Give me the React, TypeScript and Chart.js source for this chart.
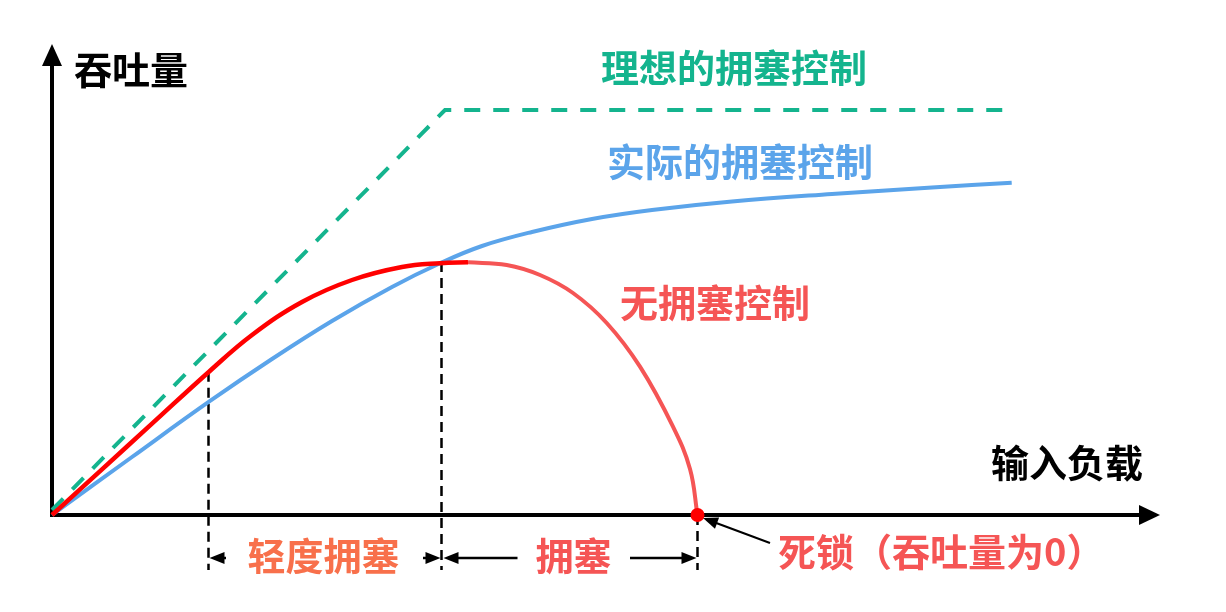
import React, { useEffect, useRef } from "react";
import { Chart, registerables } from "chart.js";

Chart.register(...registerables);

// ---- data (x: 输入负载, y: 吞吐量, arbitrary units) ----
const idealX = [0, 39.3, 96.3];
const idealY = [0.5, 40.5, 40.5];

const actualX = [0, 8, 15.7, 22, 28, 34, 38.8, 43, 48, 54, 60, 68, 78, 88, 95.97];
const actualY = [0, 5.8, 11.33, 15.6, 19.4, 22.8, 25.17, 26.9, 28.3, 29.6, 30.5, 31.35, 32.1, 32.75, 33.23];

const noCtrlRiseX = [0, 5, 10, 15.7, 20, 25, 30, 35, 38.8, 41.6];
const noCtrlRiseY = [0, 4.57, 9.13, 14.33, 18.0, 21.3, 23.5, 24.8, 25.18, 25.27];

const noCtrlFallX = [41.6, 45.47, 48.8, 52.1, 55.47, 58.8, 62.1, 63.8, 64.55];
const noCtrlFallY = [25.27, 25.0, 24.0, 22.2, 19.2, 14.83, 8.83, 4.6, 0];

const deadlockX = [64.55];
const deadlockY = [0];

// vertical markers: x positions and the throughput where they start
const markerX = [15.65, 38.95, 64.55];
const markerTopY = [14.33, 25.3, 0];
const markerBottomY = -5.5;

// ---- text ----
const yAxisTitle = "吞吐量";
const xAxisTitle = "输入负载";
const seriesLabels = ["理想的拥塞控制", "实际的拥塞控制", "无拥塞控制"];
const zoneLabels = ["轻度拥塞", "拥塞"];
const deadlockLabel = "死锁（吞吐量为0）";

const X_MIN = 0, X_MAX = 110, Y_MIN = 0, Y_MAX = 47;

const GREEN = "#14B48E";
const BLUE = "#5BA4EA";
const RED = "#FF0000";
const LIGHT_RED = "#F55555";
const ORANGE = "#F8704B";
const FONT = '"Noto Sans CJK SC", "Noto Sans", sans-serif';

function zip(xs: number[], ys: number[]) {
  return xs.map((x, i) => ({ x, y: ys[i] }));
}

function arrowHead(ctx: CanvasRenderingContext2D, x1: number, y1: number, x2: number, y2: number, len: number, half: number, color: string) {
  const a = Math.atan2(y2 - y1, x2 - x1);
  const bx = x2 - len * Math.cos(a), by = y2 - len * Math.sin(a);
  ctx.save();
  ctx.fillStyle = color;
  ctx.beginPath();
  ctx.moveTo(x2, y2);
  ctx.lineTo(bx + half * Math.sin(a), by - half * Math.cos(a));
  ctx.lineTo(bx - half * Math.sin(a), by + half * Math.cos(a));
  ctx.closePath();
  ctx.fill();
  ctx.restore();
}

function arrow(ctx: CanvasRenderingContext2D, x1: number, y1: number, x2: number, y2: number, lw: number, len: number, half: number, color: string) {
  const a = Math.atan2(y2 - y1, x2 - x1);
  ctx.save();
  ctx.strokeStyle = color;
  ctx.lineWidth = lw;
  ctx.beginPath();
  ctx.moveTo(x1, y1);
  ctx.lineTo(x2 - (len * 0.8) * Math.cos(a), y2 - (len * 0.8) * Math.sin(a));
  ctx.stroke();
  ctx.restore();
  arrowHead(ctx, x1, y1, x2, y2, len, half, color);
}

const axesPlugin = {
  id: "axesPlugin",
  beforeDatasetsDraw(chart: any) {
    const { ctx, scales } = chart;
    const xs = scales.x, ys = scales.y;
    const ox = xs.getPixelForValue(0), oy = ys.getPixelForValue(0);
    ctx.save();
    ctx.strokeStyle = "#000";
    ctx.lineWidth = 4;
    ctx.beginPath();
    ctx.moveTo(ox, oy + 2);
    ctx.lineTo(ox, ys.getPixelForValue(Y_MAX) + 16);
    ctx.stroke();
    ctx.beginPath();
    ctx.moveTo(ox - 2, oy);
    ctx.lineTo(xs.getPixelForValue(X_MAX) - 10, oy);
    ctx.stroke();
    ctx.restore();
    arrowHead(ctx, ox, oy, ox, ys.getPixelForValue(Y_MAX) - 1, 22, 10, "#000");
    arrowHead(ctx, ox, oy, xs.getPixelForValue(X_MAX) + 8, oy, 21, 10, "#000");
  },
  afterDatasetsDraw(chart: any) {
    const { ctx, scales } = chart;
    const X = (v: number) => scales.x.getPixelForValue(v);
    const Y = (v: number) => scales.y.getPixelForValue(v);

    const text = (s: string, x: number, y: number, color: string, align: CanvasTextAlign = "center") => {
      ctx.save();
      ctx.font = `bold 38px ${FONT}`;
      ctx.fillStyle = color;
      ctx.textAlign = align;
      ctx.textBaseline = "middle";
      ctx.fillText(s, X(x), Y(y));
      ctx.restore();
    };

    text(yAxisTitle, 7.9, 44.55, "#000");
    text(xAxisTitle, 101.5, 5.2, "#000");
    text(seriesLabels[0], 68.2, 44.75, GREEN);
    text(seriesLabels[1], 68.8, 35.3, BLUE);
    text(seriesLabels[2], 66.3, 21.2, LIGHT_RED);
    text(zoneLabels[0], 27.16, -4.1, ORANGE);
    text(zoneLabels[1], 52.16, -4.1, LIGHT_RED);
    text(deadlockLabel, 72.6, -3.7, LIGHT_RED, "left");

    const ay = Y(-4.3);
    arrow(ctx, X(17.4), ay, X(markerX[0]) + 1, ay, 2.5, 15, 6, "#000");
    arrow(ctx, X(37.1), ay, X(markerX[1]) - 1, ay, 2.5, 15, 6, "#000");
    arrow(ctx, X(46.55), ay, X(markerX[1]) + 2, ay, 2.5, 15, 6, "#000");
    arrow(ctx, X(57.8), ay, X(markerX[2]) - 1, ay, 2.5, 15, 6, "#000");
    arrow(ctx, X(71.8), Y(-2.8), X(65.1), Y(-0.3), 2, 15, 6, "#000");
  },
};

export default function App() {
  const ref = useRef<HTMLCanvasElement | null>(null);
  useEffect(() => {
    if (!ref.current) return;
    const markerSets = markerX.map((x, i) => ({
      data: [{ x, y: markerTopY[i] }, { x, y: markerBottomY }],
      borderColor: "#000",
      borderWidth: 2.5,
      borderDash: [10, 6],
      pointRadius: 0,
      tension: 0,
      clip: false as any,
      order: 5,
    }));
    const chart = new Chart(ref.current, {
      type: "line",
      data: {
        datasets: [
          ...markerSets,
          {
            label: seriesLabels[0],
            data: zip(idealX, idealY),
            borderColor: GREEN,
            borderWidth: 4,
            borderDash: [16, 13],
            tension: 0,
            pointRadius: 0,
            clip: false as any,
            order: 4,
          },
          {
            label: seriesLabels[1],
            data: zip(actualX, actualY),
            borderColor: BLUE,
            borderWidth: 4,
            tension: 0.4,
            pointRadius: 0,
            clip: false as any,
            order: 3,
          },
          {
            label: seriesLabels[2] + "-fall",
            data: zip(noCtrlFallX, noCtrlFallY),
            borderColor: LIGHT_RED,
            borderWidth: 4,
            tension: 0.4,
            pointRadius: 0,
            clip: false as any,
            order: 2,
          },
          {
            label: seriesLabels[2],
            data: zip(noCtrlRiseX, noCtrlRiseY),
            borderColor: RED,
            borderWidth: 4.5,
            tension: 0.4,
            pointRadius: 0,
            clip: false as any,
            order: 1,
          },
          {
            label: "deadlock",
            data: zip(deadlockX, deadlockY),
            showLine: false,
            pointRadius: 7,
            pointBackgroundColor: RED,
            pointBorderWidth: 0,
            borderColor: RED,
            clip: false as any,
            order: 0,
          },
        ],
      },
      options: {
        responsive: false,
        animation: false,
        layout: { padding: { left: 52, right: 74, top: 45, bottom: 97 } },
        scales: {
          x: { type: "linear", min: X_MIN, max: X_MAX, display: false },
          y: { type: "linear", min: Y_MIN, max: Y_MAX, display: false },
        },
        plugins: { legend: { display: false }, tooltip: { enabled: false } },
        events: [],
      },
      plugins: [axesPlugin],
    });
    return () => chart.destroy();
  }, []);
  return (
    <div style={{ position: "absolute", left: 0, top: 0, width: 1226, height: 612, background: "#fff" }}>
      <canvas ref={ref} width={1226} height={612} style={{ display: "block" }} />
    </div>
  );
}
